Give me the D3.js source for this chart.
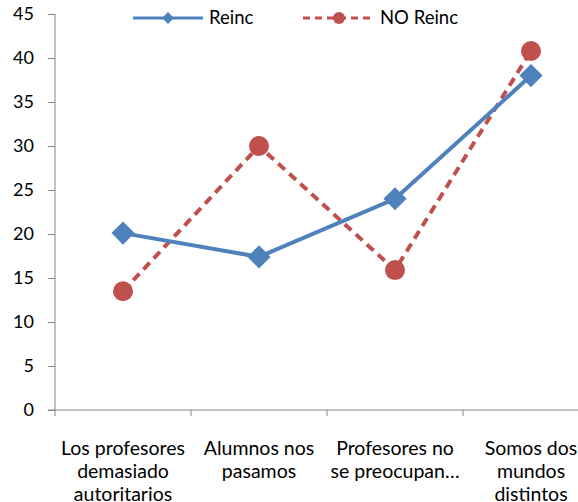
<!DOCTYPE html>
<html>
<head>
<meta charset="utf-8">
<script src="https://cdn.jsdelivr.net/npm/d3@7"></script>
<style>
  body { margin: 0; background: #fff; }
  svg { display: block; font-family: Lato, "Open Sans", sans-serif; }
</style>
</head>
<body>
<div id="chart"></div>
<script>
const categories = ["Los profesores demasiado autoritarios", "Alumnos nos pasamos",
  "Profesores no se preocupan…", "Somos dos mundos distintos"];
const tickLabels = [
  ["Los profesores", "demasiado", "autoritarios"],
  ["Alumnos nos", "pasamos"],
  ["Profesores no", "se preocupan…"],
  ["Somos dos", "mundos", "distintos"]
];
const reinc = [20.1, 17.4, 24, 38];
const noReinc = [13.5, 30, 15.9, 40.8];
const yTicks = [0, 5, 10, 15, 20, 25, 30, 35, 40, 45];

const width = 578, height = 502;
const blue = "#4F81BD", red = "#C0504D", axisColor = "#868686";

const svg = d3.select("#chart").append("svg")
  .attr("width", width)
  .attr("height", height);

const x = d3.scaleBand().domain(categories).range([55, 599]);
const y = d3.scaleLinear().domain([0, 45]).range([410, 14]);
const cx = d => x(d) + x.bandwidth() / 2;

// y axis
const yAxis = svg.append("g")
  .attr("transform", "translate(55,0)")
  .call(d3.axisLeft(y).tickValues(yTicks).tickSize(7).tickPadding(14));
yAxis.select(".domain").attr("stroke", axisColor).attr("d", `M0,${y(45)}V${y(0)}`);
yAxis.selectAll(".tick line").attr("stroke", axisColor);
yAxis.selectAll("text")
  .attr("font-size", "18px")
  .attr("fill", "#000")
  .attr("font-family", "Lato, sans-serif");

// x axis line with ticks at category boundaries
svg.append("line")
  .attr("x1", 48).attr("x2", width)
  .attr("y1", y(0)).attr("y2", y(0))
  .attr("stroke", axisColor);
svg.selectAll(".xtick")
  .data(categories)
  .enter().append("line")
  .attr("class", "xtick")
  .attr("x1", d => x(d)).attr("x2", d => x(d))
  .attr("y1", y(0)).attr("y2", y(0) + 6)
  .attr("stroke", axisColor);

// x labels
const xl = svg.selectAll(".xlabel")
  .data(categories)
  .enter().append("text")
  .attr("class", "xlabel")
  .attr("text-anchor", "middle")
  .attr("font-size", "19.5px")
  .attr("fill", "#000");
xl.selectAll("tspan")
  .data((d, i) => tickLabels[i].map(t => ({ t, c: d })))
  .enter().append("tspan")
  .attr("x", d => cx(d.c))
  .attr("y", (d, j) => 455 + j * 23)
  .text(d => d.t);

const line = d3.line()
  .x((d, i) => cx(categories[i]))
  .y(d => y(d));

// NO Reinc series (dashed red, circles)
svg.append("path")
  .datum(noReinc)
  .attr("fill", "none")
  .attr("stroke", red)
  .attr("stroke-width", 4)
  .attr("stroke-dasharray", "9,6")
  .attr("d", line);

// Reinc series (solid blue, diamonds)
svg.append("path")
  .datum(reinc)
  .attr("fill", "none")
  .attr("stroke", blue)
  .attr("stroke-width", 4)
  .attr("d", line);

svg.selectAll(".dot-no")
  .data(noReinc)
  .enter().append("circle")
  .attr("class", "dot-no")
  .attr("cx", (d, i) => cx(categories[i]))
  .attr("cy", d => y(d))
  .attr("r", 10)
  .attr("fill", red);

const diamond = d3.symbol().type(d3.symbolDiamond2).size(340);
svg.selectAll(".dot-reinc")
  .data(reinc)
  .enter().append("path")
  .attr("class", "dot-reinc")
  .attr("transform", (d, i) => `translate(${cx(categories[i])},${y(d)})`)
  .attr("d", diamond)
  .attr("fill", blue);

// legend
const legend = svg.append("g");
legend.append("line")
  .attr("x1", 133).attr("x2", 203).attr("y1", 18).attr("y2", 18)
  .attr("stroke", blue).attr("stroke-width", 3);
legend.append("path")
  .attr("transform", "translate(168,18)")
  .attr("d", d3.symbol().type(d3.symbolDiamond2).size(90))
  .attr("fill", blue);
legend.append("text")
  .attr("x", 209).attr("y", 24)
  .attr("font-size", "18.5px").attr("fill", "#000")
  .text("Reinc");

legend.append("line")
  .attr("x1", 303).attr("x2", 372).attr("y1", 18).attr("y2", 18)
  .attr("stroke", red).attr("stroke-width", 3)
  .attr("stroke-dasharray", "7,5");
legend.append("circle")
  .attr("cx", 339).attr("cy", 18).attr("r", 6)
  .attr("fill", red);
legend.append("text")
  .attr("x", 380).attr("y", 24)
  .attr("font-size", "18.5px").attr("fill", "#000")
  .text("NO Reinc");
</script>
</body>
</html>
